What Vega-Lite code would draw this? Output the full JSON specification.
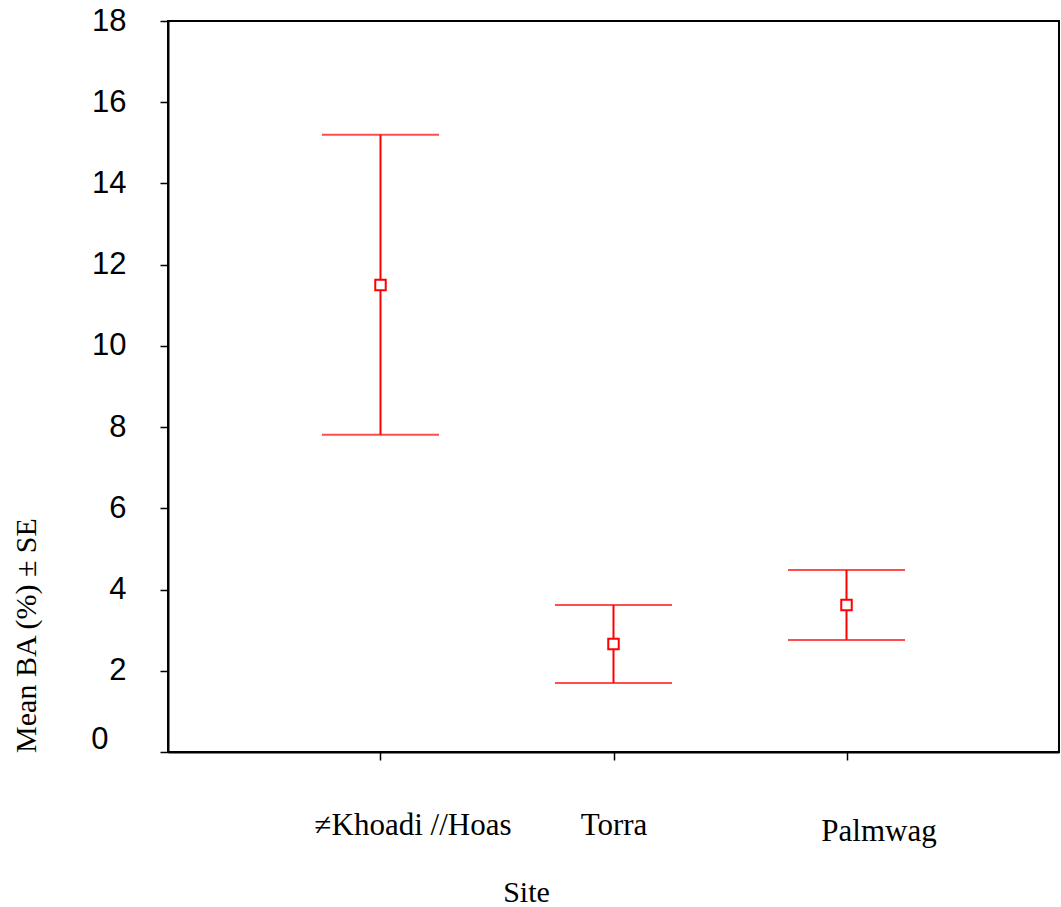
{
  "$schema": "https://vega.github.io/schema/vega-lite/v6.json",
  "autosize": "none",
  "padding": {"left": 168, "top": 21, "right": 2, "bottom": 155},
  "width": 891,
  "height": 731,
  "background": "white",
  "config": {"view": {"stroke": "black", "strokeWidth": 2}},
  "data": {"values": [
    {"site": "≠Khoadi //Hoas", "mean": 11.5, "lower": 7.81, "upper": 15.2},
    {"site": "Torra", "mean": 2.66, "lower": 1.70, "upper": 3.62},
    {"site": "Palmwag", "mean": 3.62, "lower": 2.76, "upper": 4.48}
  ]},
  "encoding": {
    "x": {"field": "site", "type": "nominal", "sort": null,
      "scale": {"type": "point", "padding": 0.912},
      "axis": {"title": "Site", "labelAngle": 0, "grid": false, "labelLimit": 0,
        "domainColor": "black", "domainWidth": 2, "tickColor": "black", "tickWidth": 1.5, "tickSize": 8,
        "labelFont": "Liberation Serif", "labelFontSize": 31, "labelColor": "black",
        "labelBaseline": "alphabetic",
        "labelPadding": {"condition": {"test": "datum.value === 'Palmwag'", "value": 80}, "value": 74},
        "labelOffset": {"condition": {"test": "datum.value === 'Torra'", "value": 0}, "value": 32},
        "titleFont": "Liberation Serif", "titleFontSize": 30, "titleFontWeight": "normal", "titleColor": "black",
        "titleX": 358, "titleY": 149, "titleBaseline": "alphabetic", "titleAlign": "center"}
    }
  },
  "layer": [
    {"mark": {"type": "rule", "color": "#ff0000", "strokeWidth": 2},
     "encoding": {
       "y": {"field": "lower", "type": "quantitative",
         "scale": {"domain": [0, 18], "nice": false},
         "axis": {"title": "Mean BA (%) ± SE", "values": [0, 2, 4, 6, 8, 10, 12, 14, 16, 18], "grid": false,
           "domainColor": "black", "domainWidth": 2, "tickColor": "black", "tickWidth": 1.5, "tickSize": 8,
           "labelFont": "Liberation Sans", "labelFontSize": 31, "labelColor": "black",
           "labelAlign": "right", "labelBaseline": "middle",
           "labelPadding": {"condition": {"test": "datum.value === 0", "value": 52}, "value": 34},
           "labelOffset": {"condition": {"test": "datum.value === 0", "value": -13}, "value": 0},
           "titleFont": "Liberation Serif", "titleFontSize": 30, "titleFontWeight": "normal", "titleColor": "black",
           "titleAngle": -90, "titleX": -142, "titleY": 614, "titleAlign": "center", "titleBaseline": "middle"}
       },
       "y2": {"field": "upper"}
     }
    },
    {"mark": {"type": "tick", "color": "#ff0000", "thickness": 2, "size": 117, "orient": "horizontal"},
     "encoding": {"y": {"field": "upper", "type": "quantitative"}}},
    {"mark": {"type": "tick", "color": "#ff0000", "thickness": 2, "size": 117, "orient": "horizontal"},
     "encoding": {"y": {"field": "lower", "type": "quantitative"}}},
    {"mark": {"type": "point", "shape": "square", "filled": true, "fill": "white", "stroke": "#ff0000", "strokeWidth": 2, "size": 110, "opacity": 1},
     "encoding": {"y": {"field": "mean", "type": "quantitative"}}}
  ]
}
